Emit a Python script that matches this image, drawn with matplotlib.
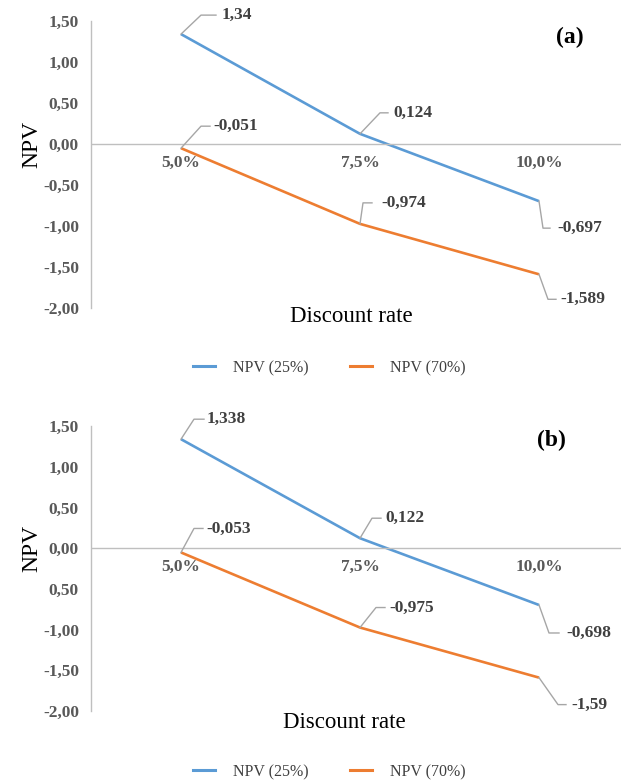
import matplotlib.pyplot as plt
from matplotlib.lines import Line2D

plt.rcParams['font.family'] = ['Liberation Serif', 'DejaVu Serif']

# data
rates = ["5,0%", "7,5%", "10,0%"]
series_names = ["NPV (25%)", "NPV (70%)"]
npv25_a = [1.34, 0.124, -0.697]
npv70_a = [-0.051, -0.974, -1.589]
npv25_b = [1.338, 0.122, -0.698]
npv70_b = [-0.053, -0.975, -1.59]
labels25_a = ["1,34", "0,124", "-0,697"]
labels70_a = ["-0,051", "-0,974", "-1,589"]
labels25_b = ["1,338", "0,122", "-0,698"]
labels70_b = ["-0,053", "-0,975", "-1,59"]
yticks = [1.5, 1.0, 0.5, 0.0, -0.5, -1.0, -1.5, -2.0]
yticklabels_a = ["1,50", "1,00", "0,50", "0,00", "-0,50", "-1,00", "-1,50", "-2,00"]
yticklabels_b = ["1,50", "1,00", "0,50", "0,00", "0,50", "-1,00", "-1,50", "-2,00"]

BLUE = "#5b9bd5"
ORANGE = "#ed7d31"
W, H = 621, 784

fig = plt.figure(figsize=(W / 100, H / 100), dpi=100)


def px_to_fig(x, y):
    return x / W, 1 - y / H


def leader(ax, x, y, text, dx, dy, hlen, gap):
    # leader line: diagonal to a kink, then a short horizontal stub, then the label
    px, py = ax.transData.transform((x, y))
    kx, ky = px + dx, py + dy
    hx = kx + hlen
    inv = fig.transFigure.inverted()
    pts = inv.transform([(px, py), (kx, ky), (hx, ky)])
    fig.add_artist(Line2D(pts[:, 0], pts[:, 1], transform=fig.transFigure,
                          color="#a6a6a6", lw=1.0))
    tx, ty = inv.transform((hx + gap, ky))
    fig.text(tx, ty, text, ha="left", va="center", fontsize=12.5,
             fontweight="bold", color="#404040")


def panel(top, bottom, s25, s70, l25, l70, ylabels, tag, tagpos, xlab_pos,
          leg_y, offs25, offs70):
    left, right = 91.5, W
    ax = fig.add_axes([left / W, 1 - bottom / H, (right - left) / W, (bottom - top) / H])
    ax.patch.set_alpha(0)
    x = list(range(len(rates)))
    ax.plot(x, s25, color=BLUE, lw=1.9, solid_capstyle="butt")
    ax.plot(x, s70, color=ORANGE, lw=1.9, solid_capstyle="butt")
    ax.set_xlim(-0.5, -0.5 + (right - left) / 179)
    ax.set_ylim(-2, 1.5)
    ax.spines["top"].set_visible(False)
    ax.spines["right"].set_visible(False)
    ax.spines["bottom"].set_position(("data", 0))
    for s in ("left", "bottom"):
        ax.spines[s].set_color("#bfbfbf")
        ax.spines[s].set_linewidth(1.0)
    ax.set_xticks(x)
    ax.set_xticklabels(rates)
    ax.set_yticks(yticks)
    ax.set_yticklabels(ylabels)
    ax.tick_params(axis="both", length=0, labelsize=12.5, labelcolor="#595959")
    ax.tick_params(axis="x", pad=8)
    ax.tick_params(axis="y", pad=9)
    for t in ax.get_xticklabels() + ax.get_yticklabels():
        t.set_fontweight("bold")
    fig.canvas.draw()
    for i in x:
        dx, dy, hl, g = offs25[i]
        leader(ax, i, s25[i], l25[i], dx, dy, hl, g)
        dx, dy, hl, g = offs70[i]
        leader(ax, i, s70[i], l70[i], dx, dy, hl, g)
    # axis titles
    zero_y = ax.transData.transform((0, 0))[1]
    fig.text(32 / W, zero_y / H, "NPV", rotation=90, ha="center", va="center",
             fontsize=17, color="black")
    fx, fy = px_to_fig(*xlab_pos)
    fig.text(fx, fy, "Discount rate", ha="center", va="center", fontsize=16.5,
             color="black")
    fx, fy = px_to_fig(*tagpos)
    fig.text(fx, fy, tag, ha="center", va="center", fontsize=17,
             fontweight="bold", color="black")
    handles = [Line2D([], [], color=BLUE, lw=2.2), Line2D([], [], color=ORANGE, lw=2.2)]
    fx, fy = px_to_fig(329, leg_y)
    leg = fig.legend(handles, series_names, loc="center", bbox_to_anchor=(fx, fy),
                     ncol=2, frameon=False, fontsize=11.5, handlelength=1.4,
                     handletextpad=1.1, columnspacing=2.6)
    for t in leg.get_texts():
        t.set_color("#404040")


# (dx, dy up, horizontal length, text gap) in pixels
offs25_a = [(20, 19, 15, 6), (20, 21, 8, 5), (4, -27, 7, 7)]
offs70_a = [(20, 22, 9, 3), (3, 21, 9, 9), (9, -25, 8, 4)]
offs25_b = [(13, 20, 10, 3), (12, 20, 9, 4), (10, -28, 10, 7)]
offs70_b = [(13, 24, 9, 3), (16, 20, 9, 4), (19, -27, 8, 5)]

panel(21, 308, npv25_a, npv70_a, labels25_a, labels70_a, yticklabels_a,
      "(a)", (570, 37), (351, 316), 368, offs25_a, offs70_a)
panel(426, 711, npv25_b, npv70_b, labels25_b, labels70_b, yticklabels_b,
      "(b)", (551, 440), (344, 722), 772, offs25_b, offs70_b)

fig.savefig("out.png", dpi=100)
